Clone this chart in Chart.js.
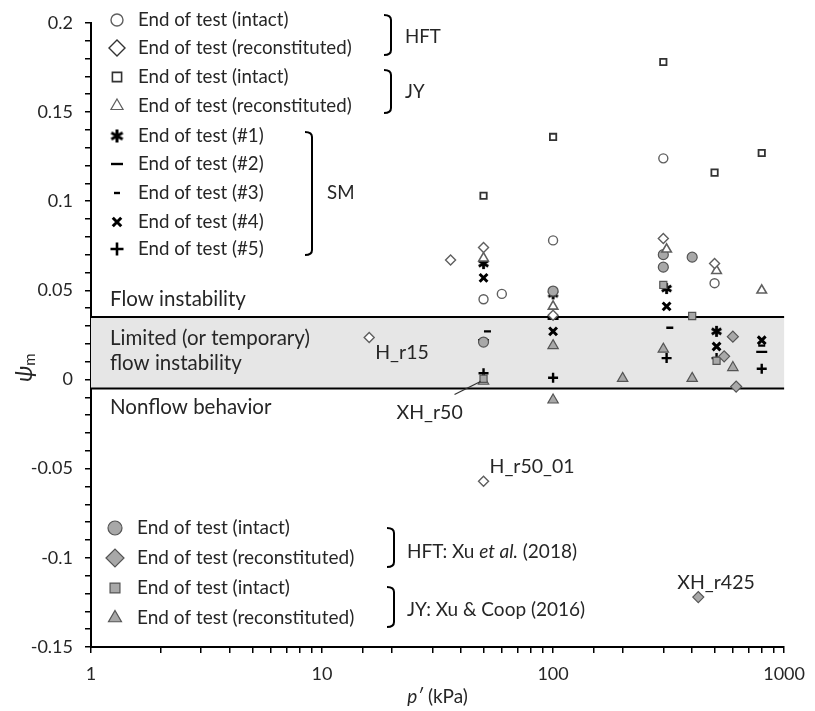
<!DOCTYPE html>
<html>
<head>
<meta charset="utf-8">
<script src="https://cdn.jsdelivr.net/npm/chart.js@4.4.1/dist/chart.umd.min.js"></script>
<style>
  html, body { margin: 0; padding: 0; background: #fff; }
</style>
</head>
<body>
<canvas id="psiChart" width="815" height="711"></canvas>
<script>
// p' (kPa), psi_m pairs for each test group
var hftIntact  = [[50, 0.045], [60, 0.048], [100, 0.078], [300, 0.124], [500, 0.054]];
var hftRecon   = [[16, 0.0235], [36, 0.067], [50, 0.074], [50, -0.057], [100, 0.036], [300, 0.079], [500, 0.065]];
var jyIntact   = [[50, 0.103], [100, 0.136], [300, 0.178], [500, 0.116], [800, 0.127]];
var jyRecon    = [[50, 0.068], [100, 0.041], [310, 0.073], [510, 0.061], [800, 0.05]];
var sm1 = [[50, 0.065], [100, 0.048], [310, 0.051], [510, 0.027]];
var sm2 = [[50, 0.022], [100, 0.034], [800, 0.0155]];
var sm3 = [[52, 0.027], [320, 0.029], [800, 0.019]];
var sm4 = [[50, 0.057], [100, 0.027], [310, 0.041], [510, 0.0185], [800, 0.022]];
var sm5 = [[50, 0.0035], [100, 0.001], [310, 0.012], [510, 0.012], [800, 0.006]];
// Xu et al. (2018) and Xu & Coop (2016)
var xuHftIntact = [[50, 0.021], [100, 0.0496], [300, 0.07], [300, 0.063], [400, 0.0686]];
var xuHftRecon  = [[600, 0.024], [550, 0.013], [620, -0.004], [425, -0.122]];
var xuJyIntact  = [[50, 0.0004], [300, 0.053], [400, 0.0356], [510, 0.0105]];
var xuJyRecon   = [[50, -0.001], [100, 0.019], [100, -0.0115], [200, 0.0006], [300, 0.017], [400, 0.0006], [600, 0.0067]];

// zone limits
var bandTop = 0.035;
var bandBottom = -0.005;

// tagged specimens: [label, p', psi]
var pointTags = [["H_r15", 16, 0.0235], ["H_r50_01", 50, -0.057], ["XH_r425", 425, -0.122], ["XH_r50", 50, 0]];

var FONT = "Lato";
var INK = "#262626";
var OPEN_EDGE = "#5f5f5f";
var GREY_FILL = "#a8a8a8";
var GREY_EDGE = "#555555";

function xy(arr) {
  return arr.map(function (d) { return { x: d[0], y: d[1] }; });
}

// six-armed asterisk marker
function makeAsterisk(size, lw) {
  var c = document.createElement("canvas");
  c.width = size; c.height = size;
  var g = c.getContext("2d");
  var r = size / 2 - 1;
  g.strokeStyle = "#000";
  g.lineWidth = lw;
  [90, 30, 150].forEach(function (a) {
    var t = a * Math.PI / 180;
    g.beginPath();
    g.moveTo(size / 2 - r * Math.cos(t), size / 2 - r * Math.sin(t));
    g.lineTo(size / 2 + r * Math.cos(t), size / 2 + r * Math.sin(t));
    g.stroke();
  });
  return c;
}
var asteriskSmall = makeAsterisk(13, 2.8);
var asteriskBig = makeAsterisk(15, 3);

function openSet(data, style, radius, edge, lw) {
  return { data: xy(data), pointStyle: style, pointRadius: radius, backgroundColor: "#fff",
           borderColor: edge, pointBorderWidth: lw, showLine: false };
}
function greySet(data, style, radius) {
  return { data: xy(data), pointStyle: style, pointRadius: radius, backgroundColor: GREY_FILL,
           borderColor: GREY_EDGE, pointBorderWidth: 1.2, showLine: false };
}
function blackSet(data, style, radius, lw) {
  return { data: xy(data), pointStyle: style, pointRadius: radius, backgroundColor: "#000",
           borderColor: "#000", pointBorderWidth: lw, showLine: false };
}

var datasets = [
  openSet(hftIntact, "circle", 4.5, OPEN_EDGE, 1.4),
  openSet(hftRecon, "rectRot", 5, OPEN_EDGE, 1.4),
  openSet(jyIntact, "rect", 4.5, "#333", 1.8),
  openSet(jyRecon, "triangle", 5.5, OPEN_EDGE, 1.6),
  greySet(xuHftIntact, "circle", 5),
  greySet(xuHftRecon, "rectRot", 5.5),
  greySet(xuJyIntact, "rect", 5),
  greySet(xuJyRecon, "triangle", 6),
  blackSet(sm1, asteriskSmall, 6.5, 1),
  blackSet(sm2, "line", 5.5, 2.4),
  blackSet(sm3, "line", 3.5, 2.4),
  blackSet(sm4, "crossRot", 5.5, 3),
  blackSet(sm5, "cross", 5, 2.4)
];

function drawBracket(ctx, x, top, bottom) {
  ctx.save();
  ctx.strokeStyle = "#000";
  ctx.lineWidth = 2;
  ctx.beginPath();
  ctx.moveTo(x - 7, top);
  ctx.quadraticCurveTo(x, top, x, top + 5);
  ctx.lineTo(x, bottom - 5);
  ctx.quadraticCurveTo(x, bottom, x - 7, bottom);
  ctx.stroke();
  ctx.restore();
}

function legendMark(ctx, style, radius, fill, edge, lw, x, y) {
  ctx.save();
  ctx.fillStyle = fill;
  ctx.strokeStyle = edge;
  ctx.lineWidth = lw;
  Chart.helpers.drawPoint(ctx, { pointStyle: style, radius: radius, rotation: 0, borderWidth: lw }, x, y);
  ctx.restore();
}

function text(ctx, s, x, y, size, style) {
  ctx.font = (style || "") + " " + size + "px " + FONT;
  ctx.fillText(s, x, y);
  return ctx.measureText(s).width;
}

var overlay = {
  id: "overlay",
  beforeDatasetsDraw: function (chart) {
    var ctx = chart.ctx, xs = chart.scales.x, ys = chart.scales.y;
    var x0 = xs.getPixelForValue(xs.min), x1 = xs.getPixelForValue(xs.max);
    var yt = ys.getPixelForValue(bandTop), yb = ys.getPixelForValue(bandBottom);
    ctx.save();
    ctx.fillStyle = "#e6e6e6";
    ctx.fillRect(x0, yt, x1 - x0, yb - yt);
    ctx.strokeStyle = "#000";
    ctx.lineWidth = 2;
    ctx.beginPath();
    ctx.moveTo(x0, yt); ctx.lineTo(x1, yt);
    ctx.moveTo(x0, yb); ctx.lineTo(x1, yb);
    ctx.stroke();
    ctx.restore();
  },
  afterDraw: function (chart) {
    var ctx = chart.ctx, xs = chart.scales.x, ys = chart.scales.y;
    ctx.save();
    ctx.fillStyle = INK;
    ctx.textBaseline = "middle";
    ctx.textAlign = "left";

    // zone captions
    text(ctx, "Flow instability", 110, 299, 20.5);
    text(ctx, "Limited (or temporary)", 110, 338, 20.5);
    text(ctx, "flow instability", 110, 363, 20.5);
    text(ctx, "Nonflow behavior", 110, 407, 20.5);

    // upper legend
    var rows = [20, 48, 77, 106, 136, 164, 193, 222, 249];
    var mx = 117, tx = 138;
    legendMark(ctx, "circle", 6, "#fff", OPEN_EDGE, 1.4, mx, rows[0]);
    legendMark(ctx, "rectRot", 8, "#fff", "#333", 1.4, mx, rows[1]);
    legendMark(ctx, "rect", 6.5, "#fff", "#333", 1.6, mx, rows[2]);
    legendMark(ctx, "triangle", 7, "#fff", OPEN_EDGE, 1.2, mx, rows[3]);
    legendMark(ctx, asteriskBig, 7.5, "#000", "#000", 1, mx, rows[4]);
    legendMark(ctx, "line", 6, "#000", "#000", 2.4, mx, rows[5]);
    legendMark(ctx, "line", 3, "#000", "#000", 2.4, mx, rows[6]);
    legendMark(ctx, "crossRot", 6, "#000", "#000", 3, mx, rows[7]);
    legendMark(ctx, "cross", 6.5, "#000", "#000", 2.6, mx, rows[8]);
    var names = ["End of test (intact)", "End of test (reconstituted)", "End of test (intact)",
                 "End of test (reconstituted)", "End of test (#1)", "End of test (#2)",
                 "End of test (#3)", "End of test (#4)", "End of test (#5)"];
    ctx.fillStyle = INK;
    names.forEach(function (s, i) { text(ctx, s, tx, rows[i], 18.7); });

    drawBracket(ctx, 391, 15, 55);
    text(ctx, "HFT", 405, 37, 18.7);
    drawBracket(ctx, 391, 70, 113);
    text(ctx, "JY", 405, 92, 18.7);
    drawBracket(ctx, 312, 132, 255);
    text(ctx, "SM", 327, 193, 18.7);

    // lower legend
    var rows2 = [528, 558, 588, 618];
    legendMark(ctx, "circle", 7, GREY_FILL, GREY_EDGE, 1.2, 115, rows2[0]);
    legendMark(ctx, "rectRot", 9, GREY_FILL, GREY_EDGE, 1.2, 115, rows2[1]);
    legendMark(ctx, "rect", 7, GREY_FILL, GREY_EDGE, 1.2, 115, rows2[2]);
    legendMark(ctx, "triangle", 7.5, GREY_FILL, GREY_EDGE, 1.2, 115, rows2[3]);
    ctx.fillStyle = INK;
    text(ctx, "End of test (intact)", 137, rows2[0], 19);
    text(ctx, "End of test (reconstituted)", 137, rows2[1], 19);
    text(ctx, "End of test (intact)", 137, rows2[2], 19);
    text(ctx, "End of test (reconstituted)", 137, rows2[3], 19);

    drawBracket(ctx, 394, 528, 567);
    var w = text(ctx, "HFT: Xu ", 407, 552, 19);
    w += text(ctx, "et al.", 407 + w, 552, 19, "italic");
    text(ctx, " (2018)", 407 + w, 552, 19);
    drawBracket(ctx, 394, 587, 627);
    text(ctx, "JY: Xu & Coop (2016)", 407, 610, 19);

    // specimen tags
    var offs = { "H_r15": [6, 15], "H_r50_01": [6, -14], "XH_r425": [-21, -14], "XH_r50": [-87, 33] };
    pointTags.forEach(function (t) {
      var px = xs.getPixelForValue(t[1]), py = ys.getPixelForValue(t[2]);
      var o = offs[t[0]];
      text(ctx, t[0], px + o[0], py + o[1], 19.5);
      if (t[0] === "XH_r50") {
        ctx.strokeStyle = "#333";
        ctx.lineWidth = 1.2;
        ctx.beginPath();
        ctx.moveTo(px - 29, py + 15);
        ctx.lineTo(px - 3, py + 2);
        ctx.stroke();
      }
    });

    // axis titles
    ctx.fillStyle = INK;
    var cx = (chart.chartArea.left + chart.chartArea.right) / 2;
    ctx.font = "italic 19px " + FONT;
    var wp = ctx.measureText("p\u2032").width;
    ctx.font = "19px " + FONT;
    var wk = ctx.measureText(" (kPa)").width;
    var sx = cx - (wp + wk) / 2;
    text(ctx, "p\u2032", sx, 697, 19, "italic");
    text(ctx, " (kPa)", sx + wp, 697, 19);

    ctx.translate(25, 370);
    ctx.rotate(-Math.PI / 2);
    var wpsi = text(ctx, "\u03C8", -12, 0, 23, "italic");
    text(ctx, "m", -12 + wpsi, 5, 15);
    ctx.restore();
  }
};

new Chart(document.getElementById("psiChart"), {
  type: "scatter",
  data: { datasets: datasets },
  options: {
    responsive: false,
    animation: false,
    layout: { padding: { top: 21, right: 24, left: 0, bottom: 0 } },
    plugins: { legend: { display: false }, tooltip: { enabled: false } },
    scales: {
      x: {
        type: "logarithmic",
        min: 1,
        max: 1000,
        afterFit: function (s) { s.height = 64; },
        border: { color: "#000", width: 2 },
        grid: { drawOnChartArea: false, drawTicks: true, tickLength: 6, color: "#000", lineWidth: 1.5 },
        ticks: {
          autoSkip: false,
          maxRotation: 0,
          padding: 10,
          color: INK,
          font: { family: FONT, size: 18 },
          callback: function (v) {
            var l = Math.log10(v);
            return Math.abs(l - Math.round(l)) < 1e-9 ? String(v) : "";
          }
        }
      },
      y: {
        min: -0.15,
        max: 0.2,
        afterFit: function (s) { s.width = 91; },
        border: { color: "#000", width: 2 },
        grid: { drawOnChartArea: false, drawTicks: true, tickLength: 6, color: "#000", lineWidth: 1.5 },
        ticks: {
          stepSize: 0.01,
          autoSkip: false,
          padding: 12,
          color: INK,
          font: { family: FONT, size: 18 },
          callback: function (v) {
            var k = v / 0.05;
            if (Math.abs(k - Math.round(k)) > 1e-6) return "";
            return String(Math.round(k) * 5 / 100);
          }
        }
      }
    }
  },
  plugins: [overlay]
});
</script>
</body>
</html>
